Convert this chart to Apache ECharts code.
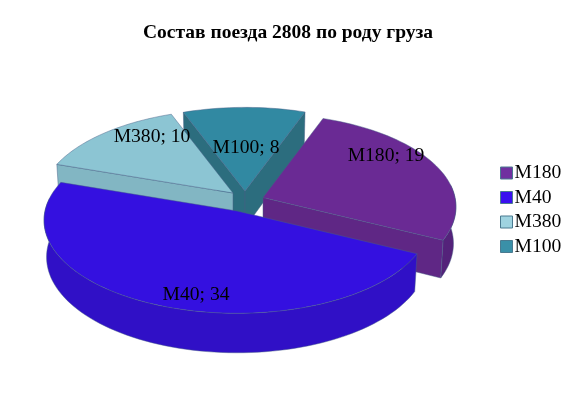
<!DOCTYPE html>
<html>
<head>
<meta charset="utf-8">
<style>
  html, body { margin: 0; padding: 0; background: #fff; }
  #chart { width: 576px; height: 417px; }
</style>
<script src="https://cdn.jsdelivr.net/npm/echarts@6/dist/echarts.min.js"></script>
</head>
<body>
<div id="chart"></div>
<script>
const titleText = 'Состав поезда 2808 по роду груза'
const categories = ['M180', 'M40', 'M380', 'M100']
const values = [19, 34, 10, 8]

// стили и положение секторов, порядок как в categories
const topColors = ['#6a2a94', '#3410e0', '#8cc5d3', '#3189a2']
const wallColors = ['#5f2785', '#3010c6', '#82b6c3', '#2c6d7e']
const sideColors = ['#54227a', '#3010c6', '#82b6c3', '#2f7b8e']
const legendColors = ['#7030a0', '#3a10f0', '#9fd3e0', '#3a90a8']
const apexX = [263, 237, 233, 245]
const apexY = [197.5, 211, 193, 191]
const labelDx = [123, -41, -81, 1]
const labelDy = [-42, 84, -56, -43]
const drawOrder = [3, 4, 2, 1]

const START_DEG = -70
const RX = 192
const RY = 92
const PERSP = 0.1
const DEPTH = 36.5
const BOTTOM_SCALE_X = 0.987
const BOTTOM_SCALE_Y = 1.03
const EDGE = 'rgba(70,95,135,0.65)'
const FONT = '"Liberation Serif"'

const total = values.reduce((a, b) => a + b, 0)

function project(deg) {
  const t = (deg * Math.PI) / 180
  const s = Math.sin(t)
  const k = 1 / (1 - PERSP * s)
  return [RX * Math.cos(t) * k, RY * s * k]
}
function topPt(i, deg) {
  const p = project(deg)
  return [apexX[i] + p[0], apexY[i] + p[1]]
}
function bottomPt(i, deg) {
  const p = project(deg)
  return [apexX[i] + p[0] * BOTTOM_SCALE_X, apexY[i] + p[1] * BOTTOM_SCALE_Y + DEPTH]
}
function arcDegs(a, b) {
  const list = []
  const n = Math.max(2, Math.ceil((b - a) / 2))
  for (let j = 0; j <= n; j++) list.push(a + ((b - a) * j) / n)
  return list
}
function poly(points, fill, z2) {
  return {
    type: 'polygon',
    z2: z2,
    shape: { points: points },
    style: { fill: fill, stroke: EDGE, lineWidth: 0.7 },
  }
}

function renderSlice(i, from, value) {
  const a = from
  const b = from + (value / total) * 360
  const apexBottom = [apexX[i], apexY[i] + DEPTH]
  const children = []

  // внешняя стенка, только передняя часть дуги
  const sa = Math.max(a, -8)
  const sb = Math.min(b, 188)
  if (sb > sa) {
    const degs = arcDegs(sa, sb)
    const pts = degs.map((d) => topPt(i, d)).concat(degs.slice().reverse().map((d) => bottomPt(i, d)))
    children.push(poly(pts, sideColors[i], 1))
  }
  // радиальные стенки
  if (Math.cos((a * Math.PI) / 180) < 0) {
    children.push(poly([[apexX[i], apexY[i]], topPt(i, a), bottomPt(i, a), apexBottom], wallColors[i], 2))
  }
  if (Math.cos((b * Math.PI) / 180) > 0) {
    children.push(poly([[apexX[i], apexY[i]], topPt(i, b), bottomPt(i, b), apexBottom], wallColors[i], 2))
  }
  // верхняя грань
  const topPts = [[apexX[i], apexY[i]]].concat(arcDegs(a, b).map((d) => topPt(i, d)))
  children.push(poly(topPts, topColors[i], 3))
  // подпись
  children.push({
    type: 'text',
    z2: 4,
    style: {
      x: apexX[i] + labelDx[i],
      y: apexY[i] + labelDy[i],
      text: categories[i] + '; ' + value,
      fill: '#000',
      font: '19.6px ' + FONT,
      align: 'center',
      verticalAlign: 'middle',
    },
  })
  return { type: 'group', children: children }
}

let cumulative = 0
const series = categories.map((name, i) => {
  const from = START_DEG + (cumulative / total) * 360
  cumulative += values[i]
  return {
    name: name,
    type: 'custom',
    coordinateSystem: 'none',
    z: drawOrder[i],
    silent: true,
    itemStyle: { color: legendColors[i] },
    data: [[from, values[i]]],
    renderItem: (params, api) => renderSlice(i, api.value(0), api.value(1)),
  }
})

const chart = echarts.init(document.getElementById('chart'), null, { renderer: 'canvas' })
chart.setOption({
  animation: false,
  backgroundColor: '#fff',
  title: {
    text: titleText,
    left: 'center',
    top: 18,
    textStyle: { fontFamily: FONT, fontSize: 19.5, fontWeight: 'bold', color: '#000' },
  },
  legend: {
    orient: 'vertical',
    left: 495,
    top: 158,
    itemWidth: 12,
    itemHeight: 12,
    itemGap: 4.5,
    icon: 'rect',
    selectedMode: false,
    textStyle: { fontFamily: FONT, fontSize: 19.6, color: '#000', padding: [0, 0, 0, -3] },
    itemStyle: { borderColor: '#4a7a90', borderWidth: 1 },
    data: categories,
  },
  series: series,
})
</script>
</body>
</html>
